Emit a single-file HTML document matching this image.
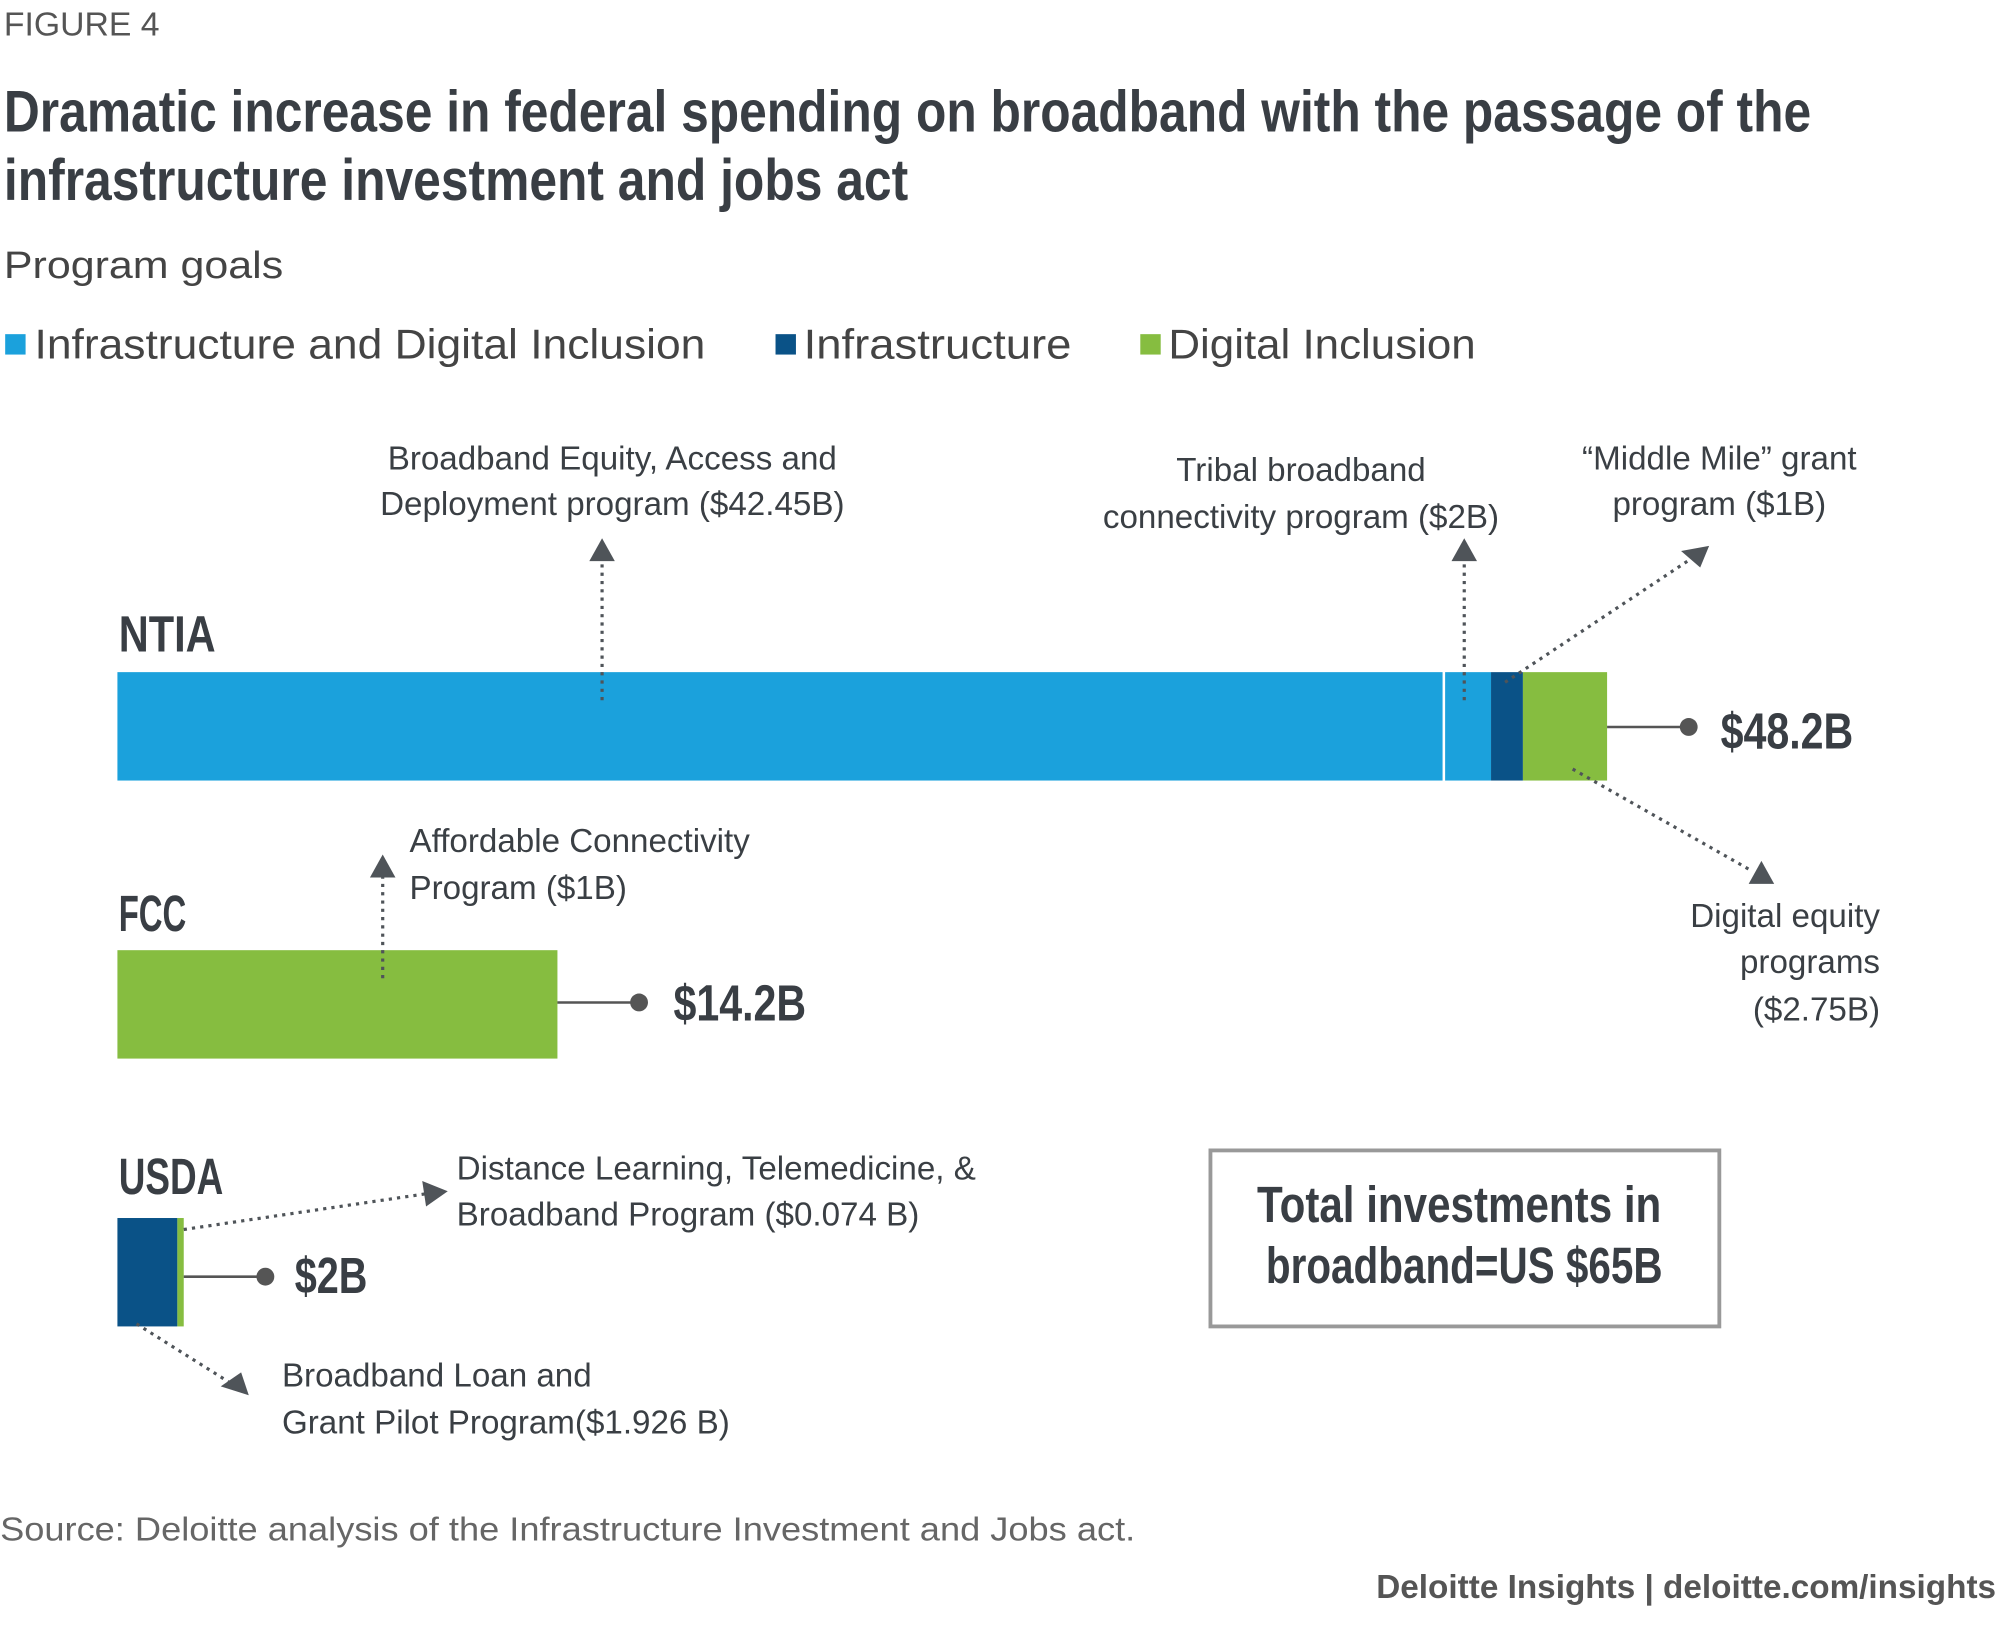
<!DOCTYPE html>
<html><head><meta charset="utf-8"><style>html,body{margin:0;padding:0;background:#fff}svg{display:block}</style></head>
<body>
<svg width="2000" height="1644" viewBox="0 0 1568 1289" xmlns="http://www.w3.org/2000/svg" font-family="Liberation Sans, sans-serif">
<defs>
<marker id="ah" viewBox="0 0 10 10" refX="2" refY="5" markerWidth="5" markerHeight="5" orient="auto"><path d="M0,0 L10,5 L0,10 z" fill="#4f5459"/></marker>
</defs>
<text x="3" y="28" font-size="26" fill="#555" textLength="122" lengthAdjust="spacingAndGlyphs">FIGURE 4</text>
<g font-weight="bold" fill="#393e44" font-size="46">
<text x="3" y="103" textLength="1417" lengthAdjust="spacingAndGlyphs">Dramatic increase in federal spending on broadband with the passage of the</text>
<text x="3" y="157" textLength="709" lengthAdjust="spacingAndGlyphs">infrastructure investment and jobs act</text>
</g>
<text x="3" y="218" font-size="30" fill="#444" textLength="219" lengthAdjust="spacingAndGlyphs">Program goals</text>
<g font-size="33" fill="#444">
<rect x="4" y="262" width="16" height="16" fill="#1ba1dc"/>
<text x="27" y="281" textLength="526" lengthAdjust="spacingAndGlyphs">Infrastructure and Digital Inclusion</text>
<rect x="608" y="262" width="16" height="16" fill="#0a5287"/>
<text x="630" y="281" textLength="210" lengthAdjust="spacingAndGlyphs">Infrastructure</text>
<rect x="894" y="262" width="16" height="16" fill="#86bd40"/>
<text x="916" y="281" textLength="241" lengthAdjust="spacingAndGlyphs">Digital Inclusion</text>
</g>
<!-- bars -->
<rect x="92" y="527" width="1039" height="85" fill="#1ba1dc"/>
<rect x="1133" y="527" width="36" height="85" fill="#1ba1dc"/>
<rect x="1169" y="527" width="25" height="85" fill="#0a5287"/>
<rect x="1194" y="527" width="66" height="85" fill="#86bd40"/>
<rect x="92" y="745" width="345" height="85" fill="#86bd40"/>
<rect x="92" y="955" width="47" height="85" fill="#0a5287"/>
<rect x="139" y="955" width="5" height="85" fill="#86bd40"/>
<!-- value lines -->
<g stroke="#555" stroke-width="2" fill="#555">
<line x1="1260" y1="570" x2="1324" y2="570"/><circle cx="1324" cy="570" r="7" stroke="none"/>
<line x1="437" y1="786" x2="501" y2="786"/><circle cx="501" cy="786" r="7" stroke="none"/>
<line x1="144" y1="1001" x2="208" y2="1001"/><circle cx="208" cy="1001" r="7" stroke="none"/>
</g>
<g font-weight="bold" fill="#393e44" font-size="40">
<text x="93" y="511" textLength="76" lengthAdjust="spacingAndGlyphs">NTIA</text>
<text x="93" y="730" textLength="53" lengthAdjust="spacingAndGlyphs">FCC</text>
<text x="93" y="936" textLength="82" lengthAdjust="spacingAndGlyphs">USDA</text>
<text x="1349" y="587" textLength="104" lengthAdjust="spacingAndGlyphs">$48.2B</text>
<text x="528" y="800" textLength="104" lengthAdjust="spacingAndGlyphs">$14.2B</text>
<text x="231" y="1014" textLength="57" lengthAdjust="spacingAndGlyphs">$2B</text>
</g>
<!-- dotted arrows -->
<g stroke="#4f5459" stroke-width="2.5" stroke-dasharray="2.5,4" fill="none">
<line x1="472" y1="549" x2="472" y2="440"/>
<line x1="1148" y1="549" x2="1148" y2="440"/>
<line x1="1180" y1="535" x2="1326" y2="438"/>
<line x1="1233" y1="603" x2="1372" y2="682"/>
<line x1="300" y1="767" x2="300" y2="688"/>
<line x1="144" y1="964" x2="334" y2="936"/>
<line x1="107" y1="1038" x2="180" y2="1084"/>
</g>
<g fill="#4f5459">
<polygon points="462,440 482,440 472,422"/>
<polygon points="1138,440 1158,440 1148,422"/>
<polygon points="1318,432 1333,445 1340,428"/>
<polygon points="1371,693 1391,693 1381,675"/>
<polygon points="290,688 310,688 300,670"/>
<polygon points="331,926 334,946 351,934"/>
<polygon points="173,1087 189,1076 195,1094"/>
</g>
<g font-size="26" fill="#3a3f44">
<text x="480" y="368" text-anchor="middle">Broadband Equity, Access and</text>
<text x="480" y="404" text-anchor="middle">Deployment program ($42.45B)</text>
<text x="1020" y="377" text-anchor="middle">Tribal broadband</text>
<text x="1020" y="414" text-anchor="middle">connectivity program ($2B)</text>
<text x="1348" y="368" text-anchor="middle">“Middle Mile” grant</text>
<text x="1348" y="404" text-anchor="middle">program ($1B)</text>
<text x="1474" y="727" text-anchor="end">Digital equity</text>
<text x="1474" y="763" text-anchor="end">programs</text>
<text x="1474" y="800" text-anchor="end">($2.75B)</text>
<text x="321" y="668">Affordable Connectivity</text>
<text x="321" y="705">Program ($1B)</text>
<text x="358" y="925">Distance Learning, Telemedicine, &amp;</text>
<text x="358" y="961">Broadband Program ($0.074 B)</text>
<text x="221" y="1087">Broadband Loan and</text>
<text x="221" y="1124">Grant Pilot Program($1.926 B)</text>
</g>
<rect x="949" y="902" width="399" height="138" fill="none" stroke="#999" stroke-width="3"/>
<g font-weight="bold" fill="#393e44" font-size="40" text-anchor="middle">
<text x="1144" y="958" textLength="317" lengthAdjust="spacingAndGlyphs">Total investments in</text>
<text x="1148" y="1006" textLength="311" lengthAdjust="spacingAndGlyphs">broadband=US $65B</text>
</g>
<text x="0" y="1208" font-size="26" fill="#666" textLength="890" lengthAdjust="spacingAndGlyphs">Source: Deloitte analysis of the Infrastructure Investment and Jobs act.</text>
<text x="1565" y="1253" font-size="26" font-weight="bold" fill="#555" text-anchor="end" textLength="486" lengthAdjust="spacingAndGlyphs">Deloitte Insights | deloitte.com/insights</text>
</svg>
</body></html>
